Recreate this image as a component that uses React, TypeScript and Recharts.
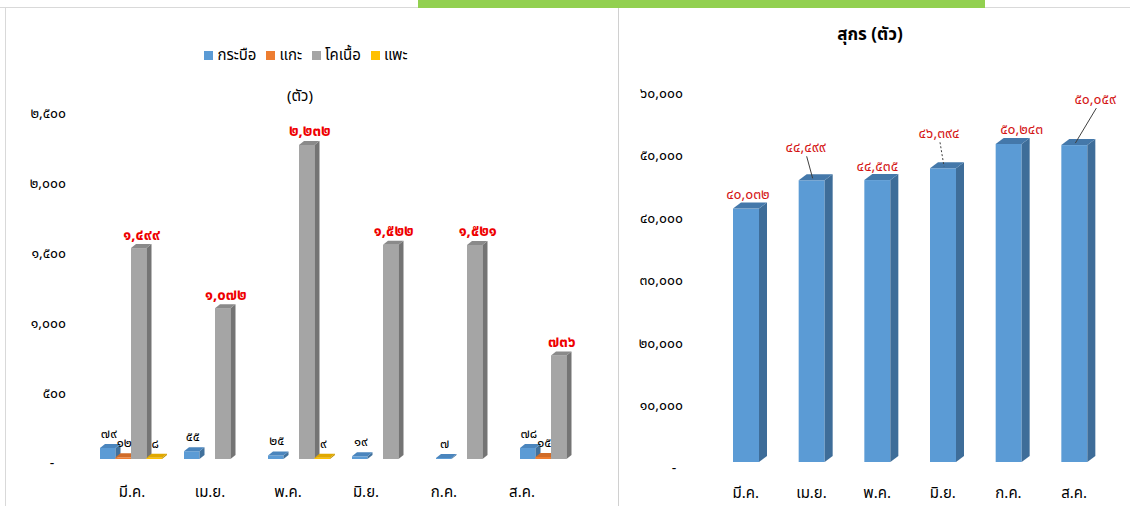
import React from "react";
import { BarChart, Bar, XAxis, YAxis, Legend, LabelList } from "recharts";

// ---- data ----
const months = ["มี.ค.", "เม.ย.", "พ.ค.", "มิ.ย.", "ก.ค.", "ส.ค."];
const buffalo = [79, 55, 25, 19, 7, 78];
const sheep = [12, null, null, null, null, 15];
const beefCattle = [1499, 1072, 2232, 1522, 1521, 736];
const goat = [8, null, 9, null, null, null];
const swine = [40032, 44499, 44535, 46394, 50243, 50059];

const seriesNames = ["กระบือ", "แกะ", "โคเนื้อ", "แพะ"];
const leftTicks = [0, 500, 1000, 1500, 2000, 2500];
const rightTicks = [0, 10000, 20000, 30000, 40000, 50000, 60000];

// label nudges for the swine chart (dx, dy) and leader style
const pigLabelShift = [
  [2, 0],
  [-6, -19],
  [0, 0],
  [-4, -21],
  [13, 0],
  [21, -32],
];
const pigLeader = ["", "solid", "", "dashed", "", "solid"];

const cattleData = months.map((m, i) => ({
  month: m,
  buffalo: buffalo[i],
  sheep: sheep[i],
  beef: beefCattle[i],
  goat: goat[i],
}));
const swineData = months.map((m, i) => ({ month: m, swine: swine[i] }));

const THAI = "๐๑๒๓๔๕๖๗๘๙";
const th = (n: number) =>
  n.toLocaleString("en-US").replace(/\d/g, (d) => THAI[+d]);

const FONT = "Tahoma, 'Noto Sans Thai', 'Leelawadee UI', 'DejaVu Sans', sans-serif";

const getBox = (p: any) => {
  const vb = p.viewBox || {};
  return {
    x: p.x ?? vb.x,
    y: p.y ?? vb.y,
    w: p.width ?? vb.width,
    h: p.height ?? vb.height,
  };
};

// 3d-ish box bar like the excel one
function box(front: string, side: string, top: string, dx: number, dy: number) {
  return (p: any) => {
    const { x, y, width: w, height: h } = p;
    if (x == null || w == null || h == null) return null;
    return (
      <g>
        <rect x={x} y={y} width={w} height={Math.max(h, 0)} fill={front} />
        <polygon
          points={`${x + w},${y} ${x + w + dx},${y - dy} ${x + w + dx},${y + h - dy} ${x + w},${y + h}`}
          fill={side}
        />
        <polygon
          points={`${x},${y} ${x + dx},${y - dy} ${x + w + dx},${y - dy} ${x + w},${y}`}
          fill={top}
        />
      </g>
    );
  };
}

const smallLabel = (p: any) => {
  if (p.value == null) return null;
  const { x, y, w } = getBox(p);
  return (
    <text
      x={x + w / 2 + 1}
      y={y - 14}
      textAnchor="middle"
      dominantBaseline="central"
      fontSize={13}
      fontFamily={FONT}
      fill="#000"
    >
      {th(p.value)}
    </text>
  );
};

const beefLabel = (p: any) => {
  if (p.value == null) return null;
  const { x, y, w } = getBox(p);
  return (
    <text
      x={x + w / 2 + 3}
      y={y - 13}
      textAnchor="middle"
      dominantBaseline="central"
      fontSize={15}
      fontWeight="bold"
      fontFamily={FONT}
      fill="#ee0000"
    >
      {th(p.value)}
    </text>
  );
};

const pigLabel = (p: any) => {
  if (p.value == null) return null;
  const { x, y, w } = getBox(p);
  const i = p.index ?? 0;
  const [ox, oy] = pigLabelShift[i] || [0, 0];
  const cx = x + w / 2 + ox;
  const cy = y - 14 + oy;
  const lead = pigLeader[i];
  return (
    <g>
      {lead && (
        <line
          x1={cx + 1}
          y1={cy + 9}
          x2={x + w / 2 + 1}
          y2={y - 2}
          stroke="#404040"
          strokeWidth={1}
          strokeDasharray={lead === "dashed" ? "2 2" : undefined}
        />
      )}
      <text
        x={cx}
        y={cy}
        textAnchor="middle"
        dominantBaseline="central"
        fontSize={14}
        fontFamily={FONT}
        fill="#d41616"
      >
        {th(p.value)}
      </text>
    </g>
  );
};

const yTick = (endX: number, dashX: number) => (p: any) => {
  const v = p.payload.value;
  if (v === 0)
    return (
      <text x={dashX} y={p.y} textAnchor="middle" dominantBaseline="central" fontSize={14} fill="#000" fontFamily={FONT}>
        -
      </text>
    );
  return (
    <text x={endX} y={p.y} textAnchor="end" dominantBaseline="central" fontSize={14} fill="#000" fontFamily={FONT}>
      {th(v)}
    </text>
  );
};

const xTick = (ty: number) => (p: any) => (
  <text x={p.x} y={ty} textAnchor="middle" dominantBaseline="central" fontSize={15} fill="#000" fontFamily={FONT}>
    {p.payload.value}
  </text>
);

export default function App() {
  return (
    <div
      style={{
        position: "absolute",
        left: 0,
        top: 0,
        width: 1130,
        height: 506,
        background: "#fff",
        overflow: "hidden",
        fontFamily: FONT,
      }}
    >
      {/* frame lines */}
      <div style={{ position: "absolute", left: 0, top: 7, width: 1130, height: 1, background: "#d9d9d9" }} />
      <div style={{ position: "absolute", left: 5, top: 7, width: 1, height: 499, background: "#d9d9d9" }} />
      <div style={{ position: "absolute", left: 618, top: 7, width: 1, height: 499, background: "#d0d0d0" }} />
      <div style={{ position: "absolute", left: 418, top: 0, width: 567, height: 8, background: "#92d050" }} />

      {/* left: cattle etc */}
      <div style={{ position: "absolute", left: 0, top: 0 }}>
        <BarChart
          width={618}
          height={506}
          data={cattleData}
          margin={{ top: 113, right: 25, bottom: 13, left: 29 }}
          barSize={15.5}
          barGap={0}
        >
          <XAxis xAxisId="bars" dataKey="month" hide />
          <XAxis
            xAxisId="lab"
            dataKey="month"
            padding={{ left: 4, right: 32 }}
            axisLine={false}
            tickLine={false}
            height={30}
            tick={xTick(492)}
            interval={0}
          />
          <YAxis
            yAxisId="tk"
            type="number"
            domain={[0, 2500]}
            ticks={leftTicks}
            width={60}
            axisLine={false}
            tickLine={false}
            tick={yTick(66, 52)}
            interval={0}
            allowDataOverflow
          />
          <YAxis yAxisId="bars" domain={[0, 2459]} padding={{ top: 0, bottom: 4 }} hide allowDataOverflow />
          <Legend
            verticalAlign="middle"
            align="center"
            layout="horizontal"
            iconType="square"
            iconSize={9}
            itemSorter={(item: any) => seriesNames.indexOf(item.value)}
            wrapperStyle={{ top: 44, fontSize: 15, fontFamily: FONT }}
            formatter={(v: any) => <span style={{ color: "#000" }}>{v}</span>}
          />
          <Bar xAxisId="bars" yAxisId="bars" dataKey="buffalo" name={seriesNames[0]} fill="#5b9bd5"
            shape={box("#5b9bd5", "#41719c", "#4a85bd", 5, 4)} isAnimationActive={false}>
            <LabelList dataKey="buffalo" content={smallLabel} />
          </Bar>
          <Bar xAxisId="bars" yAxisId="bars" dataKey="sheep" name={seriesNames[1]} fill="#ed7d31"
            shape={box("#ed7d31", "#b55d22", "#d06b28", 5, 4)} isAnimationActive={false}>
            <LabelList dataKey="sheep" content={smallLabel} />
          </Bar>
          <Bar xAxisId="bars" yAxisId="bars" dataKey="beef" name={seriesNames[2]} fill="#a5a5a5"
            shape={box("#a5a5a5", "#747474", "#8a8a8a", 5, 4)} isAnimationActive={false}>
            <LabelList dataKey="beef" content={beefLabel} />
          </Bar>
          <Bar xAxisId="bars" yAxisId="bars" dataKey="goat" name={seriesNames[3]} fill="#ffc000"
            shape={box("#ffc000", "#bf9000", "#e0a800", 5, 4)} isAnimationActive={false}>
            <LabelList dataKey="goat" content={smallLabel} />
          </Bar>
        </BarChart>
        <div style={{ position: "absolute", left: 270, top: 85, width: 60, textAlign: "center", fontSize: 15, color: "#000" }}>
          (ตัว)
        </div>
      </div>

      {/* right: swine */}
      <div style={{ position: "absolute", left: 618, top: 0 }}>
        <BarChart
          width={512}
          height={506}
          data={swineData}
          margin={{ top: 93, right: 23, bottom: 8, left: 35 }}
          barSize={26}
        >
          <XAxis dataKey="month" axisLine={false} tickLine={false} height={30} tick={xTick(493)} interval={0} />
          <YAxis
            yAxisId="tk"
            type="number"
            domain={[0, 60000]}
            ticks={rightTicks}
            width={60}
            axisLine={false}
            tickLine={false}
            tick={yTick(65, 56)}
            interval={0}
            allowDataOverflow
          />
          <YAxis yAxisId="bars" domain={[0, 58290]} padding={{ top: 0, bottom: 6 }} hide allowDataOverflow />
          <Bar yAxisId="bars" dataKey="swine" name="สุกร" fill="#5b9bd5"
            shape={box("#5b9bd5", "#3e6d99", "#4478aa", 8, 6)} isAnimationActive={false}>
            <LabelList dataKey="swine" content={pigLabel} />
          </Bar>
        </BarChart>
        <div style={{ position: "absolute", left: 152, top: 22, width: 200, textAlign: "center", fontSize: 17, fontWeight: "bold", color: "#000" }}>
          สุกร (ตัว)
        </div>
      </div>
    </div>
  );
}
